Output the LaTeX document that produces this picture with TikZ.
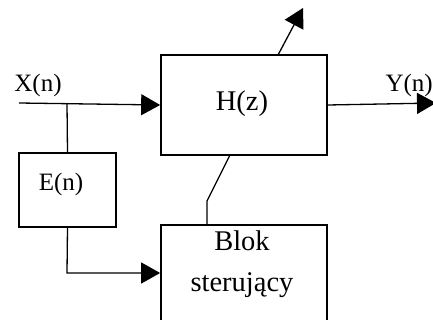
\documentclass[tikz,border=0pt]{standalone}
\usepackage{fontspec}
\setmainfont{Liberation Serif}
\usetikzlibrary{arrows.meta}

\begin{document}
\begin{tikzpicture}[
        x=1pt, y=-1pt,
        bigbox/.style={draw=black, line width=1.7pt, inner sep=0pt},
        smallbox/.style={draw=black, line width=1.2pt, inner sep=0pt},
        txt/.style={font=\fontsize{25}{27}\selectfont, inner sep=0pt},
        bigtxt/.style={font=\fontsize{28.5}{41}\selectfont, inner sep=0pt, align=center},
        wire/.style={line width=1.3pt},
        >={Triangle[length=19pt, width=21pt]}
    ]
    \useasboundingbox (0,0) rectangle (433,320);

    % Filter block
    \node[bigbox, minimum width=166pt, minimum height=100pt] (H) at (244,105) {};
    \node[bigtxt] (Htxt) at (242,104) {H(z)};

    % Error block
    \node[smallbox, minimum width=97pt, minimum height=74pt] (E) at (67.5,190) {};
    \node[txt] (Etxt) at (61,184) {E(n)};

    % Control block (cut off at the bottom)
    \node[bigbox, minimum width=166pt, minimum height=120pt] (B) at (244,285) {};
    \node[bigtxt] (Btxt) at (242,264) {Blok\\sterujący};

    % Signal labels
    \node[txt] (Xtxt) at (38,85) {X(n)};
    \node[txt, anchor=east] (Ytxt) at (433,85) {Y(n)};

    % Free ends and bends
    \coordinate (xin) at (19,103);
    \coordinate (split) at (67,103);
    \coordinate (yout) at (436,103);
    \coordinate (adapt) at (303,8);
    \coordinate (bend) at (67,273);
    \coordinate (knee) at (207,201);

    % Connections
    \draw[wire, ->] (xin) -- (H.west);
    \draw[wire] (split) -- (E.north);
    \draw[wire, ->] (E.south) -- (bend) -- (bend -| B.west);
    \draw[wire, ->] (H.east) -- (yout);
    \draw[wire, ->] (278,55) -- (adapt);
    \draw[wire] (B.north -| knee) -- (knee) -- (230,155);

\end{tikzpicture}
\end{document}
